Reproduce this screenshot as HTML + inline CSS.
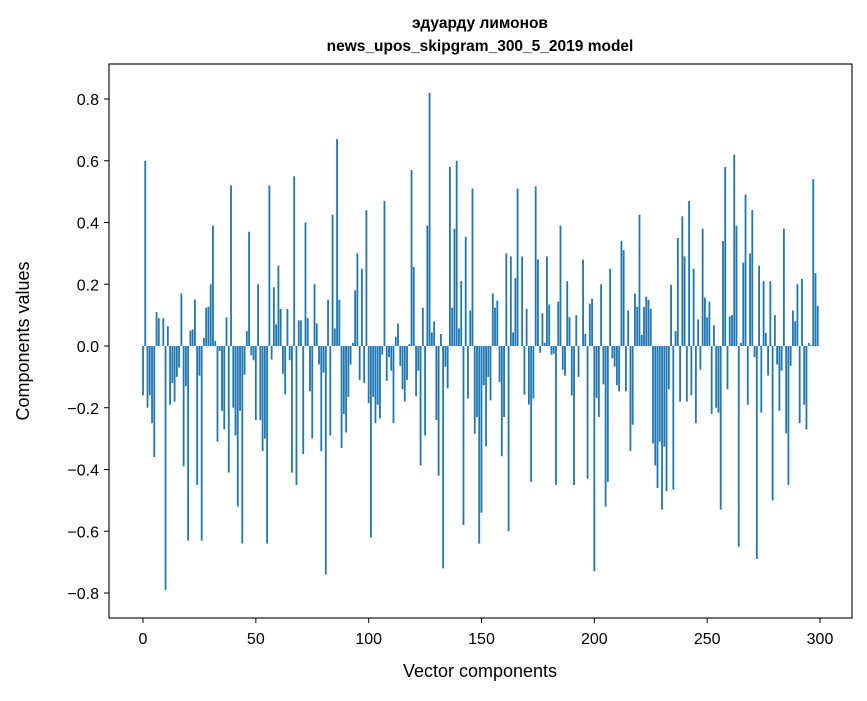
<!DOCTYPE html>
<html><head><meta charset="utf-8"><style>
html,body{margin:0;padding:0;background:#fff;}
svg text{font-family:"Liberation Sans","DejaVu Sans",sans-serif;fill:#000;}
</style></head><body>
<svg id="chart" width="867" height="696" viewBox="0 0 867 696" xmlns="http://www.w3.org/2000/svg">
<rect x="0" y="0" width="867" height="696" fill="#fff"/>
<text x="480" y="28" text-anchor="middle" font-size="15.5" font-weight="bold">эдуарду лимонов</text>
<text x="480" y="51" text-anchor="middle" font-size="15.5" font-weight="bold">news_upos_skipgram_300_5_2019 model</text>
<g id="bars"></g>
<g id="xticks"></g>
<g id="yticks"></g>
<rect x="109" y="64" width="743" height="554" fill="none" stroke="#000" stroke-width="1.1"/>
<text x="480" y="677" text-anchor="middle" font-size="18">Vector components</text>
<text x="29" y="341" text-anchor="middle" font-size="18" transform="rotate(-90 29 341)">Components values</text>
</svg>
<script>
const values = [
-0.16,0.60,-0.20,-0.16,-0.25,-0.36,0.11,0.09,0.0,0.09,
-0.79,0.064,-0.19,-0.12,-0.18,-0.10,-0.07,0.17,-0.39,-0.13,
-0.63,0.05,0.054,0.15,-0.45,-0.096,-0.63,0.026,0.124,0.127,
0.20,0.39,0.016,-0.31,-0.016,-0.21,-0.27,0.093,-0.41,0.52,
-0.20,-0.29,-0.52,-0.21,-0.64,-0.093,0.048,0.37,-0.03,-0.046,
-0.24,0.20,-0.24,-0.34,-0.30,-0.64,0.52,-0.044,0.19,0.07,
0.26,0.12,-0.09,-0.157,0.12,-0.046,-0.41,0.55,-0.45,0.083,
0.083,-0.35,0.40,0.09,-0.147,-0.30,0.20,0.073,-0.06,-0.34,
-0.086,-0.74,0.15,-0.29,0.425,0.057,0.67,0.15,-0.33,-0.22,
-0.28,-0.165,-0.06,0.01,0.18,0.30,-0.11,0.25,-0.12,0.44,
-0.185,-0.62,-0.165,-0.25,-0.19,-0.235,-0.028,0.47,-0.113,-0.036,
-0.08,-0.25,0.03,0.073,-0.064,-0.14,-0.18,-0.11,0.006,0.57,
0.256,-0.163,-0.08,-0.387,0.124,-0.29,0.39,0.82,0.044,0.08,
-0.24,-0.42,0.039,-0.72,-0.067,-0.137,0.58,0.124,0.38,0.60,
0.057,0.21,-0.58,0.354,-0.17,0.115,0.51,-0.284,-0.23,-0.64,
-0.54,-0.127,-0.325,-0.10,-0.176,0.17,0.124,0.147,-0.117,-0.357,
-0.23,0.30,-0.60,0.29,0.044,0.22,0.51,0.0,0.29,-0.157,
0.12,-0.19,-0.44,-0.17,0.517,0.28,-0.022,0.106,0.01,0.29,
0.134,-0.028,-0.025,-0.45,0.144,0.39,-0.077,-0.096,0.21,0.093,
-0.16,-0.45,0.10,-0.10,0.0,0.28,0.039,-0.43,0.137,0.153,
-0.73,-0.168,-0.23,0.20,-0.124,-0.52,-0.44,0.25,-0.04,-0.067,
-0.127,-0.147,0.34,0.31,-0.147,0.115,-0.34,-0.255,0.17,0.127,
0.425,0.036,0.127,0.16,0.15,0.12,-0.316,-0.387,-0.46,-0.31,
-0.53,-0.326,-0.47,-0.14,0.198,-0.465,0.048,0.35,-0.18,0.42,
0.29,-0.18,0.47,-0.16,0.25,-0.25,0.086,-0.077,0.38,0.157,
0.093,0.144,-0.22,0.067,-0.20,-0.216,-0.53,0.34,0.58,-0.14,
0.096,0.10,0.62,0.39,-0.65,0.01,0.27,0.49,-0.19,0.30,
0.44,-0.036,-0.69,0.26,-0.216,0.21,0.042,-0.096,0.21,-0.50,
0.10,-0.06,-0.21,-0.08,0.38,-0.283,-0.45,-0.064,0.115,0.08,
0.20,-0.25,0.217,-0.19,-0.27,0.01,0.003,0.54,0.236,0.13
];
const xTickValues = [0,50,100,150,200,250,300];
const xTickLabels = ["0","50","100","150","200","250","300"];
const yTickValues = [-0.8,-0.6,-0.4,-0.2,0.0,0.2,0.4,0.6,0.8];
const yTickLabels = ["\u22120.8","\u22120.6","\u22120.4","\u22120.2","0.0","0.2","0.4","0.6","0.8"];

const NS="http://www.w3.org/2000/svg";
function xScale(v){return 143 + v*(820-143)/300;}
function yScale(v){return 346 - v*308.75;}
const barsG=document.getElementById('bars');
const bw=0.8*(820-143)/300;
values.forEach((v,i)=>{
  const r=document.createElementNS(NS,'rect');
  const y0=yScale(0), y1=yScale(v);
  r.setAttribute('x',xScale(i)-bw/2);
  r.setAttribute('y',Math.min(y0,y1));
  r.setAttribute('width',bw);
  r.setAttribute('height',Math.max(Math.abs(y1-y0),0.01));
  r.setAttribute('fill','#1f77b4');
  
  
  barsG.appendChild(r);
});
const xg=document.getElementById('xticks');
xTickValues.forEach((v,i)=>{
  const x=xScale(v);
  const l=document.createElementNS(NS,'line');
  l.setAttribute('x1',x);l.setAttribute('x2',x);l.setAttribute('y1',618);l.setAttribute('y2',623);
  l.setAttribute('stroke','#000');l.setAttribute('stroke-width','1');
  
  
  xg.appendChild(l);
  const t=document.createElementNS(NS,'text');
  t.setAttribute('x',x);t.setAttribute('y',644);t.setAttribute('text-anchor','middle');t.setAttribute('font-size','16');
  t.textContent=xTickLabels[i];
  
  
  xg.appendChild(t);
});
const yg=document.getElementById('yticks');
yTickValues.forEach((v,i)=>{
  const y=yScale(v);
  const l=document.createElementNS(NS,'line');
  l.setAttribute('x1',104);l.setAttribute('x2',109);l.setAttribute('y1',y);l.setAttribute('y2',y);
  l.setAttribute('stroke','#000');l.setAttribute('stroke-width','1');
  
  
  yg.appendChild(l);
  const t=document.createElementNS(NS,'text');
  t.setAttribute('x',99);t.setAttribute('y',y+6);t.setAttribute('text-anchor','end');t.setAttribute('font-size','16');
  t.textContent=yTickLabels[i];
  
  
  yg.appendChild(t);
});
</script>
</body></html>
